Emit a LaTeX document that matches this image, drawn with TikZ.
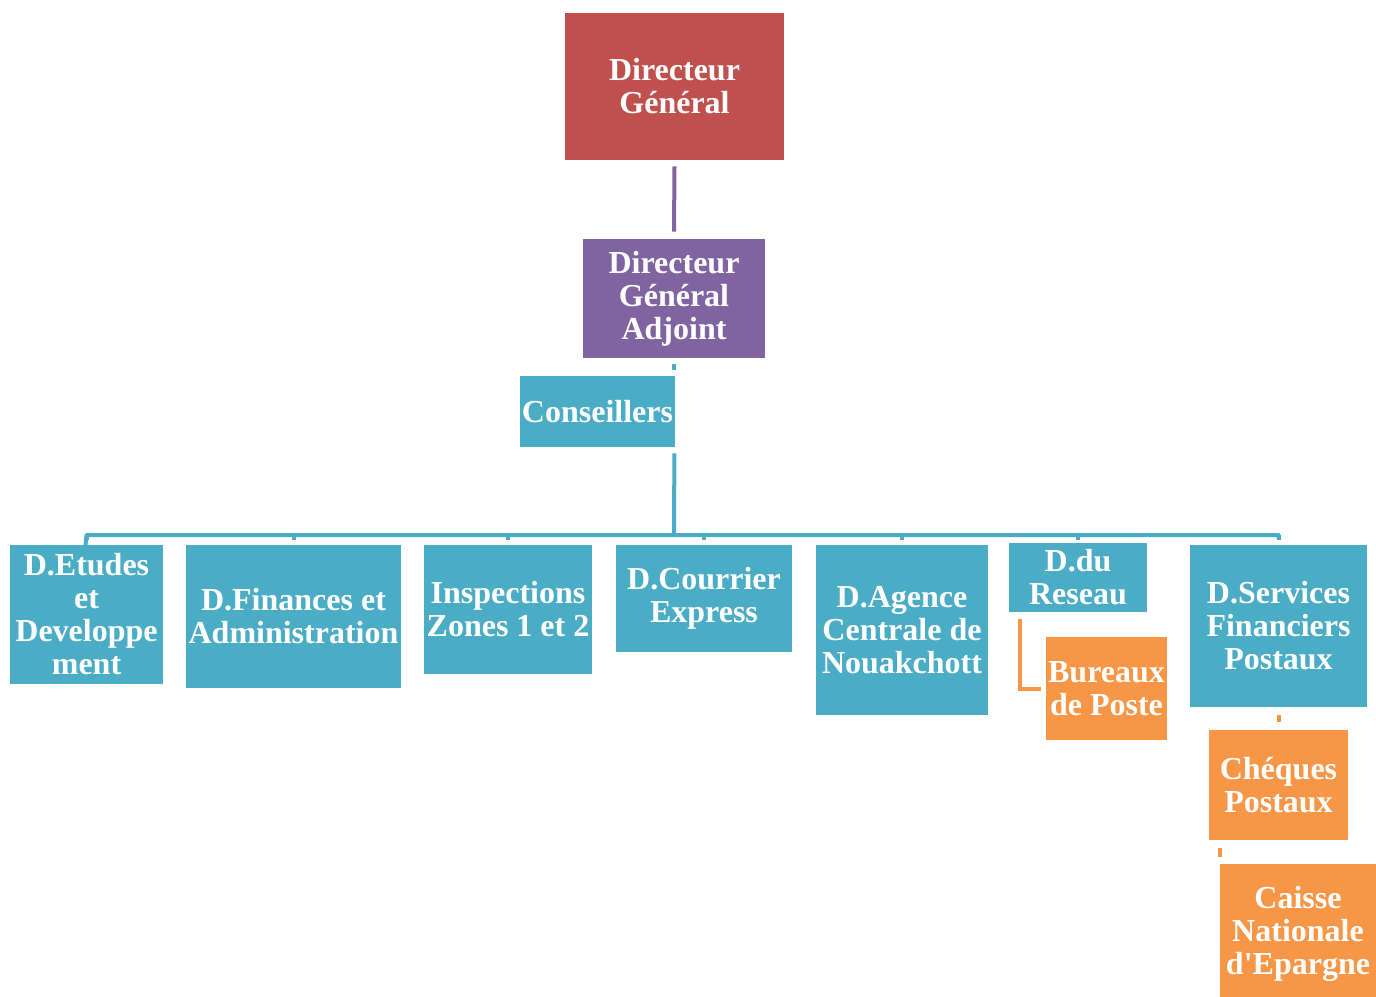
\documentclass[tikz,border=0pt]{standalone}
\usepackage{fontspec}
\setmainfont{Liberation Serif}[Ligatures=TeXOff]
\usetikzlibrary{calc}
\definecolor{cred}{HTML}{C0504D}
\definecolor{cpurple}{HTML}{8064A2}
\definecolor{cteal}{HTML}{4BACC6}
\definecolor{corange}{HTML}{F79646}
\tikzset{
  box/.style={rectangle, inner sep=0pt, text=white, align=center,
    font=\fontsize{16pt}{16.5pt}\selectfont\bfseries},
  tealbox/.style={box, fill=cteal},
  orbox/.style={box, fill=corange},
  link/.style={line width=2pt},
}
\begin{document}
\begin{tikzpicture}[x=0.5pt,y=-0.5pt]
\useasboundingbox (0,0) rectangle (1376,996);
% top
\node[box, fill=cred, minimum width=109.5pt, minimum height=73.5pt] (dg) at (674.5,86.5) {Directeur\\Général};
\node[box, fill=cpurple, minimum width=91pt, minimum height=59.5pt] (dga) at (674,298.5) {Directeur\\Général\\Adjoint};
\node[tealbox, minimum width=77.5pt, minimum height=35.5pt] (cons) at (597.5,411.5) {Conseillers};
% children
\node[tealbox, minimum width=76.5pt, minimum height=69.5pt] (c1) at (86.5,614.5) {D.Etudes\\et\\Developpe\\ment};
\node[tealbox, minimum width=107.5pt, minimum height=71.5pt] (c2) at (293.5,616.5) {D.Finances et\\Administration};
\node[tealbox, minimum width=84pt, minimum height=64.5pt] (c3) at (508,609.5) {Inspections\\Zones 1 et 2};
\node[tealbox, minimum width=88pt, minimum height=53.5pt] (c4) at (704,598.5) {D.Courrier\\Express};
\node[tealbox, minimum width=86pt, minimum height=85pt] (c5) at (902,630) {D.Agence\\Centrale de\\Nouakchott};
\node[tealbox, minimum width=69pt, minimum height=34.5pt] (c6) at (1078,577.5) {D.du\\Reseau};
\node[tealbox, minimum width=88.5pt, minimum height=81pt] (c7) at (1278.5,626) {D.Services\\Financiers\\Postaux};
% orange
\node[orbox, minimum width=60.5pt, minimum height=51.5pt] (o1) at (1106.5,688.5) {Bureaux\\de Poste};
\node[orbox, minimum width=69.5pt, minimum height=55pt] (o2) at (1278.5,785) {Chéques\\Postaux};
\node[orbox, minimum width=78pt, minimum height=69.5pt] (o3) at (1298,933.5) {Caisse\\Nationale\\d'Epargne};
% connectors
\draw[link, cpurple] ([yshift=-3pt]dg.south) -- ([yshift=3.5pt]dga.north);
\draw[link, cteal] ($(dga.south)+(0,-3pt)$) -- ($(dga.south)+(0,-6pt)$);
\coordinate (busc) at (674,535);
\draw[link, cteal] ($(cons.south east)+(-0.5pt,-3pt)$) -- (busc);
\draw[link, cteal, line join=round] ($(c1.north)+(-0.75pt,-3pt)$ |- c1.north) -- (c1.north |- busc) -- (c7.north |- busc) -- ($(c7.north)+(0,3pt)$);
\foreach \c in {c1,c2,c3,c4,c5,c6,c7}{
  \draw[link, cteal] (\c.north |- busc) -- ($(\c.north |- busc)+(0,-2.5pt)$);
}
\draw[link, corange] ([shift={(5.5pt,-3.5pt)}]c6.south west) |- ([xshift=-2.5pt]o1.west);
\draw[link, corange] ([yshift=-4pt]c7.south) -- ([yshift=4pt]o2.north);
\draw[link, corange] ($(o2.south -| o3.west)+(0,-4pt)$) -- ($(o3.north west)+(0,3.5pt)$);
\end{tikzpicture}
\end{document}
